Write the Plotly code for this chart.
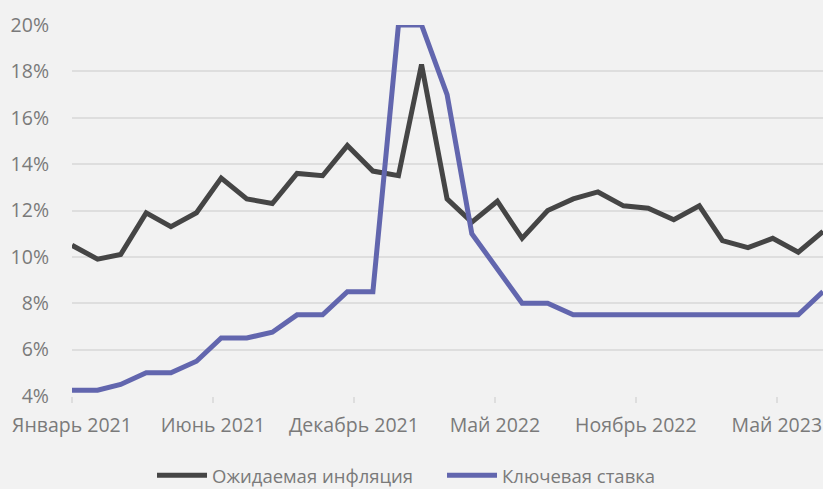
import plotly.graph_objects as go
import pandas as pd

months = pd.date_range("2021-01-01", "2023-07-01", freq="MS")
expected_inflation = [10.5, 9.9, 10.1, 11.9, 11.3, 11.9, 13.4, 12.5, 12.3, 13.6, 13.5, 14.8,
                      13.7, 13.5, 18.3, 12.5, 11.5, 12.4, 10.8, 12.0, 12.5, 12.8, 12.2, 12.1,
                      11.6, 12.2, 10.7, 10.4, 10.8, 10.2, 11.1]
key_rate = [4.25, 4.25, 4.5, 5.0, 5.0, 5.5, 6.5, 6.5, 6.75, 7.5, 7.5, 8.5,
            8.5, 20.0, 20.0, 17.0, 11.0, 9.5, 8.0, 8.0, 7.5, 7.5, 7.5, 7.5,
            7.5, 7.5, 7.5, 7.5, 7.5, 7.5, 8.5]
tick_labels = ["Январь 2021", "Июнь 2021", "Декабрь 2021", "Май 2022", "Ноябрь 2022", "Май 2023"]
tick_step_days = 171
tick_vals = [months[0] + pd.Timedelta(days=tick_step_days * i) for i in range(len(tick_labels))]

FONT = "Open Sans"
TXT = "#7a7a7a"
GRID = "#dedede"

fig = go.Figure()
fig.add_trace(go.Scatter(x=months, y=[v / 100 for v in expected_inflation], mode="lines",
                         name="Ожидаемая инфляция", line=dict(color="#454545", width=5),
                         cliponaxis=False))
fig.add_trace(go.Scatter(x=months, y=[v / 100 for v in key_rate], mode="lines",
                         name="Ключевая ставка", line=dict(color="#6266ae", width=5),
                         cliponaxis=False))

fig.update_layout(
    width=823, height=489,
    margin=dict(l=72, r=0, t=25, b=93, autoexpand=False),
    paper_bgcolor="#f2f2f2", plot_bgcolor="#f2f2f2",
    font=dict(family=FONT, size=19.5, color=TXT),
    showlegend=True,
    legend=dict(orientation="h", x=0.1847, xanchor="left", xref="container",
                y=0.027, yanchor="middle", yref="container",
                itemwidth=50, entrywidth=225, font=dict(family=FONT, size=18.5, color=TXT),
                traceorder="normal", bgcolor="rgba(0,0,0,0)", tracegroupgap=0),
)
fig.update_xaxes(
    type="date", range=[months[0], months[-1]],
    tickvals=tick_vals, ticktext=tick_labels,
    ticks="outside", ticklen=6, tickcolor=GRID, tickwidth=2,
    showgrid=False, zeroline=False, showline=False, automargin=False,
    ticklabelstandoff=6,
    tickfont=dict(family=FONT, size=19.5, color=TXT),
)
fig.update_yaxes(
    range=[0.04, 0.20], dtick=0.02, tick0=0.04, tickformat=".0%",
    showgrid=True, gridcolor=GRID, gridwidth=2, zeroline=False, showline=False,
    ticks="", ticklabelstandoff=22, automargin=False,
    tickfont=dict(family=FONT, size=19.5, color=TXT),
)

fig.write_html("out.html")
